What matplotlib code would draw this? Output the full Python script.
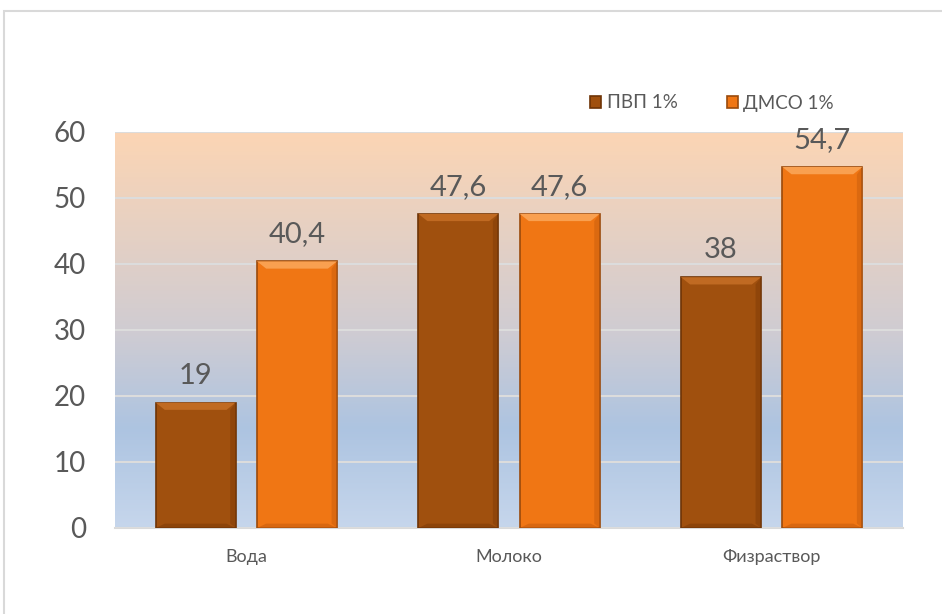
import numpy as np
import matplotlib.pyplot as plt
from matplotlib.colors import LinearSegmentedColormap
from matplotlib.patches import Polygon, Rectangle

categories = ["Вода", "Молоко", "Физраствор"]
series_names = ["ПВП 1%", "ДМСО 1%"]
pvp = [19, 47.6, 38]
dmso = [40.4, 47.6, 54.7]
yticks = [0, 10, 20, 30, 40, 50, 60]

plt.rcParams['font.family'] = ['Lato', 'DejaVu Sans']
txt = '#595959'

fig = plt.figure(figsize=(9.42, 6.14), dpi=100)
ax = fig.add_axes([115/942, 1-528/614, 788/942, 396/614])

# рамка диаграммы
fig.patches.append(Rectangle((4/942, -0.1), 1.2, 1-11/614+0.1, transform=fig.transFigure,
                             fill=False, edgecolor='#d9d9d9', linewidth=1.5))

# градиентный фон
cmap = LinearSegmentedColormap.from_list('bg', [(0, '#c6d6ec'), (0.25, '#adc4e1'),
                                               (0.5, '#d0ccd2'), (1, '#fcd5b4')])
grad = np.linspace(0, 1, 256).reshape(-1, 1)
ax.imshow(grad, cmap=cmap, aspect='auto', origin='lower', extent=[-0.5, 2.5, 0, 60], zorder=0)

x = np.arange(len(categories))
w = 0.305
off = 0.193
b1 = ax.bar(x - off, pvp, w, color='#a0500e', edgecolor='#6e3406', linewidth=1.2, zorder=3, label=series_names[0])
b2 = ax.bar(x + off, dmso, w, color='#f07614', edgecolor='#9a4a0c', linewidth=1.2, zorder=3, label=series_names[1])

# фаска сверху
for bars, light, dark in [(b1, '#c06a22', '#803c08'), (b2, '#f9a050', '#c85e0e')]:
    for p in bars:
        x0, w0, h = p.get_x(), p.get_width(), p.get_height()
        dx, dy = 0.035, 1.1
        ax.add_patch(Polygon([(x0, h), (x0 + w0, h), (x0 + w0 - dx, h - dy), (x0 + dx, h - dy)],
                             closed=True, facecolor=light, edgecolor='none', zorder=4))
        ax.add_patch(Polygon([(x0, 0), (x0 + w0, 0), (x0 + w0 - dx, dy * 0.6), (x0 + dx, dy * 0.6)],
                             closed=True, facecolor=dark, edgecolor='none', zorder=4, alpha=0.6))
        ax.add_patch(Polygon([(x0 + w0, 0), (x0 + w0, h), (x0 + w0 - dx * 0.6, h - dy), (x0 + w0 - dx * 0.6, dy * 0.6)],
                             closed=True, facecolor=dark, edgecolor='none', zorder=4, alpha=0.5))

for bars, vals in [(b1, pvp), (b2, dmso)]:
    for p, v in zip(bars, vals):
        s = ('%g' % v).replace('.', ',')
        ax.annotate(s, (p.get_x() + p.get_width() / 2, v), xytext=(0, 10), textcoords='offset points',
                    ha='center', va='bottom', fontsize=21, color=txt, zorder=5)

ax.set_xlim(-0.5, 2.5)
ax.set_ylim(0, 60)
ax.set_yticks(yticks)
ax.set_xticks(x)
ax.set_xticklabels(categories)
ax.grid(axis='y', color='#dcdcdc', linewidth=1.5, zorder=1)
ax.set_axisbelow(False)
for sp in ['left', 'right', 'top']:
    ax.spines[sp].set_visible(False)
ax.spines['bottom'].set_color('#d9d9d9')
ax.spines['bottom'].set_linewidth(1.5)
ax.tick_params(axis='y', length=0, labelsize=20, labelcolor=txt, pad=21)
ax.tick_params(axis='x', length=0, labelsize=13, labelcolor=txt, pad=15)
for gl in ax.get_ygridlines():
    gl.set_zorder(1)

fig.legend(handles=[b1, b2], labels=series_names, loc='center', bbox_to_anchor=(712/942, 1-103/614),
           ncol=2, frameon=False, fontsize=13.5, labelcolor=txt, handlelength=0.6, handleheight=0.6,
           handletextpad=0.3, columnspacing=2.6)

fig.savefig('out.png', dpi=100)
